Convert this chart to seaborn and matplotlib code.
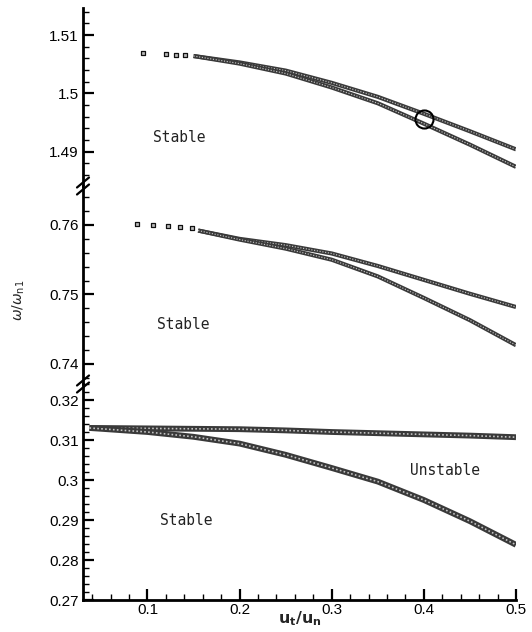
import numpy as np
import pandas as pd
import matplotlib
matplotlib.use("Agg")
import matplotlib.pyplot as plt
from matplotlib.lines import Line2D
from matplotlib.ticker import MultipleLocator, FuncFormatter, FixedLocator
import seaborn as sns

# ---- frequency branches, upper band (omega/omega_n1 ~ 1.5) ----
top_x = [0.15, 0.20, 0.25, 0.30, 0.35, 0.40, 0.45, 0.50]
top_upper = [1.5064, 1.5053, 1.5039, 1.5018, 1.4994, 1.4965, 1.4935, 1.4904]
top_lower = [1.5064, 1.5051, 1.5034, 1.5010, 1.4983, 1.4948, 1.4912, 1.4874]
top_start_x = [0.095, 0.120, 0.131, 0.141]
top_start_y = [1.5069, 1.5067, 1.5066, 1.5065]

# ---- middle band (omega/omega_n1 ~ 0.75) ----
mid_x = [0.155, 0.20, 0.25, 0.30, 0.35, 0.40, 0.45, 0.50]
mid_upper = [0.7592, 0.7580, 0.7571, 0.7559, 0.7541, 0.7521, 0.7501, 0.7482]
mid_lower = [0.7592, 0.7579, 0.7566, 0.7550, 0.7526, 0.7495, 0.7463, 0.7427]
mid_start_x = [0.089, 0.106, 0.122, 0.135, 0.148]
mid_start_y = [0.7601, 0.7600, 0.7599, 0.7597, 0.7595]

# ---- lower band (omega/omega_n1 ~ 0.3) ----
bot_x = [0.037, 0.05, 0.10, 0.15, 0.20, 0.25, 0.30, 0.35, 0.40, 0.45, 0.50]
bot_upper = [0.3130, 0.3130, 0.3129, 0.3128, 0.3127, 0.3124, 0.3120, 0.3117, 0.3114, 0.3111, 0.3107]
bot_lower = [0.3130, 0.3128, 0.3120, 0.3108, 0.3091, 0.3063, 0.3030, 0.2996, 0.2950, 0.2897, 0.2838]

# point where the two upper-band branches are highlighted
highlight_x = 0.40

x_ticks = [0.1, 0.2, 0.3, 0.4, 0.5]

sns.set_theme(style="ticks")
plt.rcParams["font.family"] = ["Liberation Sans", "DejaVu Sans"]
plt.rcParams["mathtext.fontset"] = "dejavusans"

W, H = 532, 632
fig = plt.figure(figsize=(W / 100, H / 100), dpi=100)

x_left, x_right = 83, 516
panels = [  # (top px, bottom px, ylim)
    (8, 186, (1.48412, 1.51463)),
    (186, 384, (0.73712, 0.76561)),
    (384, 600, (0.2700, 0.3240)),
]

axes = []
for top_px, bot_px, ylim in panels:
    ax = fig.add_axes([x_left / W, 1 - bot_px / H, (x_right - x_left) / W, (bot_px - top_px) / H])
    ax.set_xlim(0.03, 0.5)
    ax.set_ylim(*ylim)
    axes.append(ax)

fmt = FuncFormatter(lambda v, p: f"{v:g}")


def band(ax, x, upper, lower, lw):
    df = pd.concat([
        pd.DataFrame({"u": x, "w": upper, "branch": "a"}),
        pd.DataFrame({"u": x, "w": lower, "branch": "b"}),
    ])
    for name, sub in df.groupby("branch"):
        sns.lineplot(data=sub, x="u", y="w", ax=ax, color="#3a3a3a", lw=lw,
                     legend=False, solid_capstyle="butt", sort=False)
        sns.lineplot(data=sub, x="u", y="w", ax=ax, color="white", lw=lw * 0.28,
                     legend=False, sort=False, alpha=0.7)
        ax.lines[-1].set_dashes((1.0, 1.4))


def start_dots(ax, x, y):
    sns.scatterplot(x=x, y=y, ax=ax, marker="s", s=6, facecolor="#bbbbbb",
                    edgecolor="#111111", linewidth=0.9, legend=False)


band(axes[0], top_x, top_upper, top_lower, 3.0)
start_dots(axes[0], top_start_x, top_start_y)
band(axes[1], mid_x, mid_upper, mid_lower, 3.0)
start_dots(axes[1], mid_start_x, mid_start_y)
band(axes[2], bot_x, bot_upper, bot_lower, 4.2)

# highlight circle on the upper band
i = top_x.index(highlight_x)
axes[0].plot([highlight_x], [(top_upper[i] + top_lower[i]) / 2], marker="o", ms=13,
             mfc="none", mec="black", mew=1.5, zorder=5)

for k, ax in enumerate(axes):
    for s in ["top", "right"]:
        ax.spines[s].set_visible(False)
    ax.spines["left"].set_linewidth(2.0)
    ax.spines["left"].set_color("black")
    ax.yaxis.set_major_locator(MultipleLocator(0.01))
    ax.yaxis.set_minor_locator(MultipleLocator(0.002))
    ax.yaxis.set_major_formatter(fmt)
    ax.tick_params(axis="y", which="major", direction="in", length=8, width=1.6,
                   labelsize=11, colors="black", pad=3)
    ax.tick_params(axis="y", which="minor", direction="in", length=4, width=1.0,
                   colors="black")
    ax.set_xlabel("")
    ax.set_ylabel("")
    if k < 2:
        ax.spines["bottom"].set_visible(False)
        ax.tick_params(axis="x", which="both", bottom=False, labelbottom=False)
    else:
        ax.spines["bottom"].set_linewidth(2.0)
        ax.spines["bottom"].set_color("black")
        ax.xaxis.set_major_locator(FixedLocator(x_ticks))
        ax.xaxis.set_minor_locator(MultipleLocator(0.02))
        ax.xaxis.set_major_formatter(fmt)
        ax.tick_params(axis="x", which="major", direction="in", length=8, width=1.6,
                       labelsize=11, colors="black", pad=2)
        ax.tick_params(axis="x", which="minor", direction="in", length=4, width=1.0,
                       colors="black")

# axis titles
fig.text((x_left + x_right) / 2 / W, 1 - 619 / H, r"$\mathbf{u_t/u_n}$", fontsize=11.5,
         ha="center", va="center")
fig.text(0.036, 0.525, r"$\omega/\omega_{\rm n1}$", rotation=90, fontsize=10,
         ha="center", va="center")

# region annotations
lab = dict(family=["DejaVu Sans Mono"], fontsize=10.5, color="#222222", va="center", ha="left")
axes[0].text(0.106, 1.4924, "Stable", **lab)
axes[1].text(0.110, 0.7457, "Stable", **lab)
axes[2].text(0.114, 0.2900, "Stable", **lab)
axes[2].text(0.385, 0.3025, "Unstable", **lab)

# axis-break marks on the shared vertical axis
for yb in (186, 384):
    for off in (-3.5, 3.5):
        yc = yb + off
        fig.add_artist(Line2D([(x_left - 6) / W, (x_left + 6) / W],
                              [1 - (yc + 5) / H, 1 - (yc - 5) / H],
                              transform=fig.transFigure, color="black", lw=1.6))

fig.savefig("out.png", dpi=100)
